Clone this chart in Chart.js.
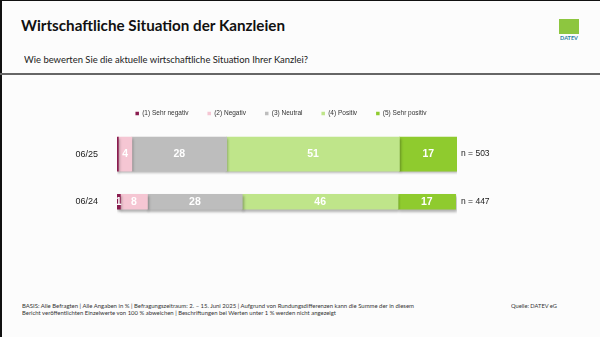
<!DOCTYPE html>
<html lang="de">
<head>
<meta charset="utf-8">
<script src="https://cdn.jsdelivr.net/npm/chart.js@4.4.1/dist/chart.umd.min.js"></script>
<style>
  html, body { margin:0; padding:0; }
  body { width:600px; height:337px; position:relative; overflow:hidden; background:#fcfcfc; font-family:"Lato","Liberation Sans",sans-serif; color:#222; }
  .frame-top { position:absolute; left:0; top:0; width:600px; height:1px; background:#111; }
  .frame-left { position:absolute; left:0; top:0; width:2px; height:337px; background:#111; }
  .t { position:absolute; white-space:nowrap; line-height:1; transform-origin:0 0; display:inline-block; }
  #title { left:21px; top:18px; font-size:15px; font-weight:700; color:#111; }
  #subtitle { left:24px; top:55.3px; font-size:9px; color:#222; }
  #rule { position:absolute; left:0; top:73px; width:600px; height:2px; background:#666; }
  #f1 { left:22px; top:303px; font-size:6px; color:#333; }
  #f2 { left:22px; top:310px; font-size:6px; color:#333; }
  #quelle { left:511px; top:303px; font-size:6px; color:#333; }
  #logo { position:absolute; left:559px; top:19px; width:20px; height:15px; background:#8dc63f; }
  #logotext { left:559px; top:35.5px; width:20px; text-align:center; font-size:5.5px; font-weight:700; color:#2a7ea0; }
  #wrap { position:absolute; left:0; top:80px; width:600px; height:170px; }
</style>
</head>
<body>
<div class="frame-top"></div>
<div class="frame-left"></div>
<span class="t" id="title" data-w="264">Wirtschaftliche Situation der Kanzleien</span>
<span class="t" id="subtitle" data-w="284">Wie bewerten Sie die aktuelle wirtschaftliche Situation Ihrer Kanzlei?</span>
<div id="rule"></div>
<div id="logo"></div>
<span class="t" id="logotext">DATEV</span>
<div id="wrap"><canvas id="c"></canvas></div>
<span class="t" id="f1" data-w="392">BASIS: Alle Befragten | Alle Angaben in % | Befragungszeitraum: 2. – 15. Juni 2025 | Aufgrund von Rundungsdifferenzen kann die Summe der in diesem</span>
<span class="t" id="f2" data-w="314">Bericht veröffentlichten Einzelwerte von 100 % abweichen | Beschriftungen bei Werten unter 1 % werden nicht angezeigt</span>
<span class="t" id="quelle" data-w="46">Quelle: DATEV eG</span>
<script>
// ---- data ----
const categories = ['06/25', '06/24'];
const sampleLabels = ['n = 503', 'n = 447'];
const seriesNames = ['(1) Sehr negativ', '(2) Negativ', '(3) Neutral', '(4) Positiv', '(5) Sehr positiv'];
const sehrNegativ = [0.4, 1];
const negativ = [4, 8];
const neutral = [28, 28];
const positiv = [51, 46];
const sehrPositiv = [17, 17];

// ---- styles ----
const seriesValues = [sehrNegativ, negativ, neutral, positiv, sehrPositiv];
const seriesColors = ['#8a1c4f', '#f5c6d3', '#bdbdbd', '#bfe58a', '#8fcb2e'];
const rowThickness = [34, 15];

function fitText() {
  document.querySelectorAll('.t[data-w]').forEach(el => {
    el.style.transform = 'none';
    const w = el.getBoundingClientRect().width;
    const target = parseFloat(el.dataset.w);
    if (w > 0) el.style.transform = 'scaleX(' + (target / w) + ')';
  });
}
fitText();
if (document.fonts && document.fonts.ready) document.fonts.ready.then(fitText);

const FONT = '"Liberation Sans", Arial, sans-serif';
const LEG_FS = 6.5, LEG_PAD = 19, BOX = 3.5;
const CANVAS_TOP = 80;
const padTop = 113.5 - CANVAS_TOP - LEG_PAD - LEG_FS / 2;
const areaTop = 130.25;
const xAxisH = areaTop - (CANVAS_TOP + padTop + LEG_FS + LEG_PAD + 10);
const padBottom = 4.75;
const PAD_R = 38;
const AREA_L = 117, AREA_R = 457;

const datasets = [];
categories.forEach((cat, r) => {
  seriesValues.forEach((vals, s) => {
    datasets.push({
      label: seriesNames[s],
      data: categories.map((_, i) => (i === r ? vals[i] : null)),
      backgroundColor: seriesColors[s],
      borderWidth: 0,
      barThickness: rowThickness[r],
      stack: 'all'
    });
  });
});

const shadowAndLabels = {
  id: 'shadowAndLabels',
  beforeDatasetsDraw(chart) {
    const ctx = chart.ctx;
    ctx.save();
    ctx.shadowColor = 'rgba(0,0,0,0.3)';
    ctx.shadowBlur = 2.5;
    ctx.shadowOffsetX = 1;
    ctx.shadowOffsetY = 2;
  },
  afterDatasetsDraw(chart) {
    const ctx = chart.ctx;
    ctx.restore();
    ctx.save();
    ctx.fillStyle = '#ffffff';
    ctx.font = 'bold 10.5px ' + FONT;
    ctx.textAlign = 'center';
    ctx.textBaseline = 'middle';
    chart.data.datasets.forEach((ds, d) => {
      const meta = chart.getDatasetMeta(d);
      meta.data.forEach((el, i) => {
        const v = ds.data[i];
        if (v == null || v < 1) return;
        const p = el.getProps(['x', 'base', 'y'], true);
        ctx.fillText(String(v), (p.x + p.base) / 2, p.y + 0.5);
      });
    });
    ctx.restore();
  }
};

new Chart(document.getElementById('c'), {
  type: 'bar',
  data: { labels: categories, datasets },
  options: {
    indexAxis: 'y',
    responsive: true,
    maintainAspectRatio: false,
    animation: false,
    layout: { padding: { left: 0, right: PAD_R, top: padTop, bottom: padBottom } },
    plugins: {
      tooltip: { enabled: false },
      legend: {
        position: 'top',
        align: 'center',
        labels: {
          filter: item => item.datasetIndex < seriesNames.length,
          boxWidth: BOX,
          boxHeight: BOX,
          padding: LEG_PAD,
          color: '#333',
          font: { family: FONT, size: LEG_FS }
        }
      }
    },
    scales: {
      x: {
        stacked: true,
        min: 0,
        max: 100.4,
        position: 'top',
        display: true,
        ticks: { display: false },
        grid: { display: false, drawTicks: false },
        border: { display: false },
        afterFit(s) { s.height = xAxisH; }
      },
      y: {
        stacked: true,
        position: 'left',
        grid: { display: false, drawTicks: false },
        border: { display: false },
        ticks: { color: '#222', padding: 19, font: { family: FONT, size: 9 } },
        afterFit(s) { s.width = AREA_L; }
      },
      yR: {
        type: 'category',
        labels: sampleLabels,
        position: 'right',
        offset: true,
        grid: { display: false, drawTicks: false },
        border: { display: false },
        ticks: { color: '#222', padding: 4, font: { family: FONT, size: 8.5 } },
        afterFit(s) { s.width = 600 - PAD_R - AREA_R; }
      }
    }
  },
  plugins: [shadowAndLabels]
});
</script>
</body>
</html>
